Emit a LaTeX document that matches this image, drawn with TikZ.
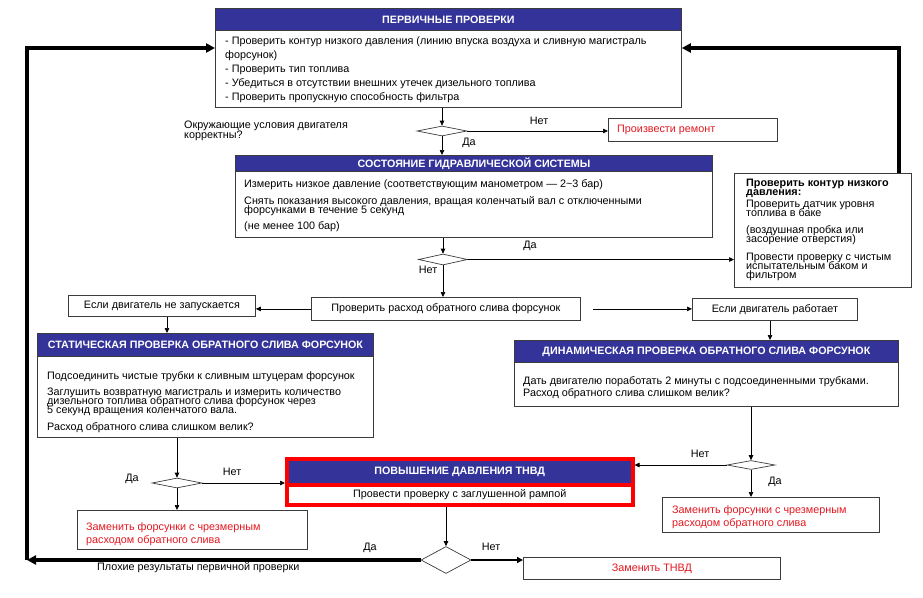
\documentclass[tikz,border=0pt]{standalone}
\usepackage{fontspec}
\setmainfont{Liberation Sans}
\usetikzlibrary{arrows.meta,shapes.geometric}
\definecolor{hblue}{RGB}{51,51,153}
\definecolor{rtext}{RGB}{228,24,32}
\definecolor{bord}{RGB}{60,60,60}
\newcommand{\fsz}[1]{\fontsize{10.8}{#1}\selectfont\lineskiplimit=-20pt\relax}
\newcommand{\fhd}{\fontsize{10.7}{12}\selectfont\bfseries}
\begin{document}
\begin{tikzpicture}[x=1pt,y=-1pt,
  box/.style={draw=bord, line width=0.8pt, fill=white, inner sep=0pt, anchor=north west},
  hdr/.style={draw=bord, line width=0.8pt, fill=hblue, inner sep=0pt, anchor=north west, text=white, font=\fhd},
  redbox/.style={draw=red, line width=3.5pt, inner sep=0pt, anchor=north west},
  txt/.style={inner sep=0pt, anchor=north west, align=left},
  lbl/.style={inner sep=0pt, font=\fsz{12}},
  dia/.style={diamond, draw=bord, line width=0.7pt, fill=white, inner sep=0pt},
  arr/.style={-{Triangle[length=5pt,width=4.5pt]}, line width=0.7pt, draw=black},
  bigarr/.style={-{Triangle[length=9pt,width=9pt]}, line width=3.5pt, draw=black},
  medarr/.style={-{Triangle[length=6pt,width=6pt]}, line width=1.8pt, draw=black}
]
\useasboundingbox (0,0) rectangle (923,597);

% ---------- top box
\node[box, minimum width=466, minimum height=99] (A) at (215,8) {};
\node[hdr, minimum width=466, minimum height=22] (Ah) at (215,8) {ПЕРВИЧНЫЕ ПРОВЕРКИ};
\node[txt, font=\fsz{13.4}] (At) at (225,36.8) {- Проверить контур низкого давления (линию впуска воздуха и сливную магистраль\\форсунок)\\[0.6pt]- Проверить тип топлива\\[0.6pt]- Убедиться в отсутствии внешних утечек дизельного топлива\\[0.6pt]- Проверить пропускную способность фильтра};

% ---------- diamond 1
\node[dia, minimum width=50, minimum height=10] (d1) at (442,131) {};
\node[txt, font=\fsz{9.5}] (q1) at (184,121.2) {Окружающие условия двигателя\\корректны?};
\node[box, minimum width=169, minimum height=23] (P) at (608,118) {};
\node[lbl, anchor=west, text=rtext] (Pt) at (617,129.5) {Произвести ремонт};

% ---------- hydraulic box
\node[box, minimum width=477, minimum height=82] (H) at (235,155) {};
\node[hdr, minimum width=477, minimum height=16] (Hh) at (235,155) {СОСТОЯНИЕ ГИДРАВЛИЧЕСКОЙ СИСТЕМЫ};
\node[txt, font=\fsz{9}] (Ht) at (244,179.1) {Измерить низкое давление (соответствующим манометром — 2\textasciitilde 3 бар)\\[8pt]Снять показания высокого давления, вращая коленчатый вал с отключенными\\форсунками в течение 5 секунд\\[7pt](не менее 100 бар)};

% ---------- diamond 2
\node[dia, minimum width=49, minimum height=11] (d2) at (443,259.5) {};

% ---------- low pressure box
\node[box, minimum width=177, minimum height=114] (LP) at (734,173) {};
\node[txt, font=\fsz{9}] (LPt) at (746,178.6) {\textbf{Проверить контур низкого}\\\textbf{давления:}\\[3pt]Проверить датчик уровня\\топлива в баке\\[8.3pt](воздушная пробка или\\засорение отверстия)\\[9pt]Провести проверку с чистым\\испытательным баком и\\фильтром};

% ---------- middle row
\node[box, minimum width=269, minimum height=23, font=\fsz{12}] (R) at (311,297) {Проверить расход обратного слива форсунок};
\node[box, minimum width=187, minimum height=21, font=\fsz{12}] (N) at (68,295) {Если двигатель не запускается};
\node[box, minimum width=165, minimum height=22, font=\fsz{12}] (W) at (692,298) {Если двигатель работает};

% ---------- static box
\node[box, minimum width=336, minimum height=104] (S) at (37,333) {};
\node[hdr, minimum width=336, minimum height=23] (Sh) at (37,333) {СТАТИЧЕСКАЯ ПРОВЕРКА ОБРАТНОГО СЛИВА ФОРСУНОК};
\node[txt, font=\fsz{9}] (St) at (47,371.8) {Подсоединить чистые трубки к сливным штуцерам форсунок\\[7pt]Заглушить возвратную магистраль и измерить количество\\дизельного топлива обратного слива форсунок через\\5 секунд вращения коленчатого вала.\\[7.5pt]Расход обратного слива слишком велик?};

% ---------- dynamic box
\node[box, minimum width=384, minimum height=66] (D) at (514,340) {};
\node[hdr, minimum width=384, minimum height=22] (Dh) at (514,340) {ДИНАМИЧЕСКАЯ ПРОВЕРКА ОБРАТНОГО СЛИВА ФОРСУНОК};
\node[txt, font=\fsz{12}] (Dt) at (523,376.1) {Дать двигателю поработать 2 минуты с подсоединенными трубками.\\Расход обратного слива слишком велик?};

% ---------- diamonds 3, 4
\node[dia, minimum width=50, minimum height=10] (d3) at (177,483) {};
\node[dia, minimum width=48, minimum height=9] (d4) at (751,465) {};

% ---------- TNVD box
\node[redbox, fill=hblue, minimum width=346, minimum height=26, text=white, font=\fhd] (Th) at (285,457) {ПОВЫШЕНИЕ ДАВЛЕНИЯ ТНВД};
\node[redbox, fill=white, minimum width=346, minimum height=20, font=\fsz{12}] (Tb) at (285,483) {Провести проверку с заглушенной рампой};

% ---------- replace boxes
\node[box, minimum width=230, minimum height=39] (Z1) at (77,510) {};
\node[txt, font=\fsz{13}, text=rtext] (Z1t) at (86,522.1) {Заменить форсунки с чрезмерным\\расходом обратного слива};
\node[box, minimum width=217, minimum height=35] (Z2) at (662,497) {};
\node[txt, font=\fsz{13}, text=rtext] (Z2t) at (672,505.1) {Заменить форсунки с чрезмерным\\расходом обратного слива};

% ---------- bottom diamond and TNVD replace
\node[dia, minimum width=50, minimum height=27] (d5) at (446,560) {};
\node[box, minimum width=257, minimum height=22, font=\fsz{12}, text=rtext] (ZT) at (523,557) {Заменить ТНВД};

% ---------- coordinates
\coordinate (cL) at (27,560);
\coordinate (cLt) at (27,48);
\coordinate (cR) at (899,48);
\coordinate (xN) at (167,0);
\coordinate (xW) at (770,0);

% ---------- connectors
\draw[arr] (d1.north |- A.south) -- (d1.north);
\draw[arr] (d1.south) -- (d1.south |- H.north);
\draw[arr] (d1.east) -- (d1.east -| P.west);
\draw[arr] (d2.north |- H.south) -- (d2.north);
\draw[arr] (d2.east) -- (d2.east -| LP.west);
\draw[arr] (d2.south) -- (d2.south |- R.north);
\draw[arr] (R.west) -- (R.west -| N.east);
\draw[arr] ([xshift=12pt]R.east) -- (R.east -| W.west);
\draw[arr] (xN |- N.south) -- (xN |- S.north);
\draw[arr] (xW |- W.south) -- (xW |- D.north);
\draw[arr] (d3.north |- S.south) -- (d3.north);
\draw[arr] (d3.south) -- (d3.south |- Z1.north);
\draw[arr] (d3.east) -- (d3.east -| Th.west);
\draw[arr] (d4.north |- D.south) -- (d4.north);
\draw[arr] (d4.west) -- (d4.west -| Th.east);
\draw[arr] (d4.south) -- (d4.south |- Z2.north);
\draw[arr] (d5.north |- Tb.south) -- (d5.north);
\draw[medarr] (d5.east) -- (d5.east -| ZT.west);
\draw[bigarr] (d5.west) -- (cL);
\draw[bigarr] (cL) -- (cLt) -- (cLt -| A.west);
\draw[bigarr] (cR |- LP.north) -- (cR) -- (cR -| A.east);

% ---------- labels
\node[lbl] (l1) at (539,121) {Нет};
\node[lbl] (l2) at (469,143) {Да};
\node[lbl] (l3) at (530,246) {Да};
\node[lbl] (l4) at (428,270) {Нет};
\node[lbl] (l5) at (132,479) {Да};
\node[lbl] (l6) at (232,472) {Нет};
\node[lbl] (l7) at (700,454) {Нет};
\node[lbl] (l8) at (775,482) {Да};
\node[lbl] (l9) at (370,548) {Да};
\node[lbl] (l10) at (491,547) {Нет};
\node[lbl, anchor=west] (l11) at (97,568) {Плохие результаты первичной проверки};
\end{tikzpicture}
\end{document}
